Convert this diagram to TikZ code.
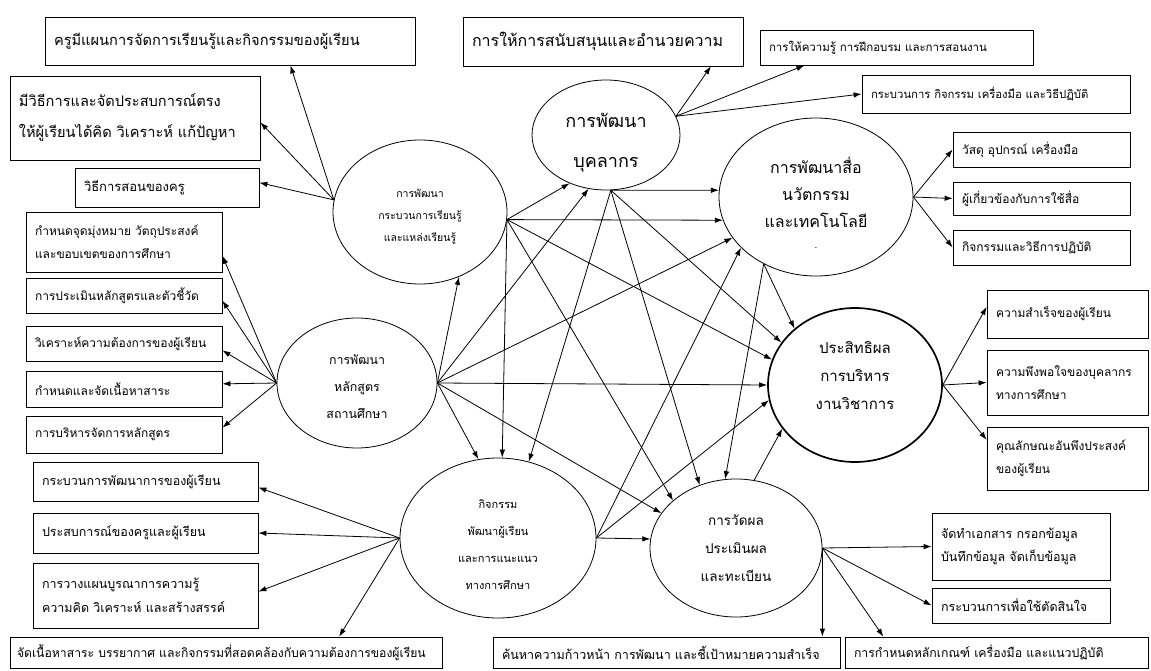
\documentclass[tikz,border=0pt]{standalone}
\usepackage{fontspec}
\newfontfamily\thai[Script=Thai]{Loma}
\newcommand\lift[2]{\raisebox{#1}[\height][\depth]{#2}}
\usetikzlibrary{shapes.geometric, arrows.meta}

\begin{document}
\begin{tikzpicture}[x=1pt,y=-1pt,line width=0.8pt]

\tikzset{factor/.style = {shape=ellipse,draw,inner sep=0pt,align=center,font=\thai\fontsize{11}{27}\selectfont}}
\tikzset{item/.style = {shape=rectangle,draw,inner xsep=9pt,inner ysep=0pt,align=left,font=\thai\fontsize{12}{23}\selectfont}}
\tikzset{edge/.style = {-{Latex[length=8pt,width=5.5pt]}}}

\useasboundingbox (0,0) rectangle (1151,671);

%factors
\node[factor, minimum width=174, minimum height=144, font=\thai\fontsize{10.5}{22}\selectfont] (e1) at (420,212) {\lift{-5pt}{การพัฒนา}\\\lift{-5pt}{กระบวนการเรียนรู้}\\\lift{-5pt}{และแหล่งเรียนรู้}};
\node[factor, minimum width=148, minimum height=110, font=\thai\fontsize{18}{40}\selectfont] (p) at (606,135) {\lift{-8pt}{การพัฒนา}\\\lift{-8pt}{บุคลากร}};
\node[factor, minimum width=194, minimum height=158, font=\thai\fontsize{16}{27}\selectfont] (m) at (816,197) {\lift{-6pt}{การพัฒนาสื่อ}\\\lift{-6pt}{นวัตกรรม}\\\lift{-6pt}{และเทคโนโลยี}\\[-6pt]\lift{-6pt}{\fontsize{10}{10}\selectfont .}};
\node[factor, minimum width=160, minimum height=130, font=\thai\fontsize{12.4}{27}\selectfont] (h) at (357,383) {\lift{-4pt}{การพัฒนา}\\\lift{-4pt}{หลักสูตร}\\\lift{-4pt}{สถานศึกษา}};
\node[factor, minimum width=196, minimum height=160] (c) at (498,538) {\lift{-7pt}{กิจกรรม}\\\lift{-7pt}{พัฒนาผู้เรียน}\\\lift{-7pt}{และการแนะแนว}\\\lift{-7pt}{ทางการศึกษา}};
\node[factor, minimum width=172, minimum height=138, font=\thai\fontsize{13.5}{28}\selectfont] (d) at (736,548) {การวัดผล\\ประเมินผล\\และทะเบียน};
\node[factor, minimum width=174, minimum height=154, line width=1.7pt, font=\thai\fontsize{15}{28}\selectfont] (x) at (855,385) {\lift{9pt}{ประสิทธิผล}\\\lift{9pt}{การบริหาร}\\\lift{9pt}{งานวิชาการ}};

%boxes
\node[item, text width=352, minimum height=48, font=\thai\fontsize{14.6}{23}\selectfont] (l1) at (230,41) {ครูมีแผนการจัดการเรียนรู้และกิจกรรมของผู้เรียน};
\node[item, text width=232, minimum height=84, font=\thai\fontsize{14.6}{31}\selectfont] (l2) at (135,118) {มีวิธีการและจัดประสบการณ์ตรง\\ให้ผู้เรียนได้คิด วิเคราะห์ แก้ปัญหา};
\node[item, text width=166, minimum height=39, font=\thai\fontsize{13}{23}\selectfont] (l3) at (167,187.5) {วิธีการสอนของครู};
\node[item, text width=178, minimum height=60] (a4) at (124,242) {กำหนดจุดมุ่งหมาย  วัตถุประสงค์\\และขอบเขตของการศึกษา};
\node[item, text width=178, minimum height=35] (a5) at (124,295.5) {การประเมินหลักสูตรและตัวชี้วัด};
\node[item, text width=178, minimum height=35] (a6) at (124,343.5) {วิเคราะห์ความต้องการของผู้เรียน};
\node[item, text width=178, minimum height=36] (a7) at (124,389) {กำหนดและจัดเนื้อหาสาระ};
\node[item, text width=178, minimum height=37] (a8) at (124,434.5) {การบริหารจัดการหลักสูตร};
\node[item, text width=207, minimum height=39, font=\thai\fontsize{12.5}{24}\selectfont] (b1) at (145.5,481.5) {กระบวนการพัฒนาการของผู้เรียน};
\node[item, text width=207, minimum height=40, font=\thai\fontsize{12.5}{24}\selectfont] (b2) at (145.5,533) {ประสบการณ์ของครูและผู้เรียน};
\node[item, text width=207, minimum height=65, font=\thai\fontsize{12.5}{24}\selectfont] (b3) at (145.5,595.5) {การวางแผนบูรณาการความรู้\\ความคิด วิเคราะห์ และสร้างสรรค์};
\node[item, inner xsep=7pt, text width=418, minimum height=31, font=\thai\fontsize{12.2}{23}\selectfont] (b4) at (226,652.5) {จัดเนื้อหาสาระ บรรยากาศ และกิจกรรมที่สอดคล้องกับความต้องการของผู้เรียน};
\node[item, text width=329, minimum height=31, font=\thai\fontsize{12.5}{23}\selectfont] (b5) at (666.5,652.5) {ค้นหาความก้าวหน้า การพัฒนา และชี้เป้าหมายความสำเร็จ};
\node[item, text width=285, minimum height=31, font=\thai\fontsize{12.3}{23}\selectfont] (b6) at (996.5,652.5) {การกำหนดหลักเกณฑ์ เครื่องมือ และแนวปฏิบัติ};
\node[item, text width=160, minimum height=67, font=\thai\fontsize{12.5}{23}\selectfont] (r1) at (1021,546.5) {จัดทำเอกสาร  กรอกข้อมูล\\บันทึกข้อมูล  จัดเก็บข้อมูล};
\node[item, text width=160, minimum height=35, font=\thai\fontsize{12.5}{23}\selectfont] (r2) at (1021,605.5) {กระบวนการเพื่อใช้ตัดสินใจ};
\node[item, text width=143, minimum height=48] (s1) at (1067.5,314) {ความสำเร็จของผู้เรียน};
\node[item, text width=143, minimum height=65] (s2) at (1067.5,382.5) {ความพึงพอใจของบุคลากร\\ทางการศึกษา};
\node[item, text width=143, minimum height=63] (s3) at (1067.5,458.5) {คุณลักษณะอันพึงประสงค์\\ของผู้เรียน};
\node[item, text width=159, minimum height=35] (m1) at (1041.5,149.5) {วัสดุ  อุปกรณ์  เครื่องมือ};
\node[item, text width=159, minimum height=33] (m2) at (1041.5,198.5) {ผู้เกี่ยวข้องกับการใช้สื่อ};
\node[item, text width=159, minimum height=35] (m3) at (1041.5,247.5) {กิจกรรมและวิธีการปฏิบัติ};
\node[item, text width=262, minimum height=49, font=\thai\fontsize{16}{23}\selectfont] (t0) at (603,41.5) {การให้การสนับสนุนและอำนวยความ};
\node[item, text width=255, minimum height=35, font=\thai\fontsize{11.5}{23}\selectfont] (t1) at (896.5,47.5) {การให้ความรู้ การฝึกอบรม และการสอนงาน};
\node[item, text width=250, minimum height=38, font=\thai\fontsize{11.3}{23}\selectfont] (t2) at (996,94) {กระบวนการ กิจกรรม เครื่องมือ และวิธีปฏิบัติ};

%edges
\draw[edge] (h.west) -- (a4.-8);
\draw[edge] (h.west) -- (a5.-3);
\draw[edge] (h.west) -- (a6.-4);
\draw[edge] (h.west) -- (a7.3);
\draw[edge] (h.west) -- (a8.4);
\draw[edge] (h.east) -- (e1.-59);
\draw[edge] (h.east) -- (p.-108);
\draw[edge] (h.east) -- (m.206);
\draw[edge] (h.east) -- (x.west);
\draw[edge] (h.east) -- (c.104);
\draw[edge] (h.east) -- (d.155);

\draw[edge] (e1.172) -- (l1.-22);
\draw[edge] (e1.172) -- (l2.-2);
\draw[edge] (e1.172) -- (l3.3);
\draw[edge] (e1.-5) -- (p.-127);
\draw[edge] (e1.-5) -- (m.194);
\draw[edge] (e1.-5) -- (x.163);
\draw[edge] (e1.-5) -- (c.87);
\draw[edge] (e1.-5) -- (d.143);

\draw[edge] (p.15) -- (t0.-13);
\draw[edge] (p.15) -- (t1.-169);
\draw[edge] (p.15) -- (t2.west);
\draw[edge] (p.-85) -- (m.176);
\draw[edge] (p.-85) -- (x.150);
\draw[edge] (p.-85) -- (c.68);
\draw[edge] (p.-85) -- (d.120);

\draw[edge] (m.east) -- (m1.west);
\draw[edge] (m.east) -- (m2.west);
\draw[edge] (m.east) -- (m3.west);
\draw[edge] (m.-128) -- (x.137);
\draw[edge] (m.-128) -- (d.99);

\draw[edge] (c.west) -- (b1.-3);
\draw[edge] (c.west) -- (b2.east);
\draw[edge] (c.west) -- (b3.2);
\draw[edge] (c.west) -- (b4.8);
\draw[edge] (c.east) -- (d.174);
\draw[edge] (c.east) -- (m.-146);
\draw[edge] (c.east) -- (x.190);

\draw[edge] (d.east) -- (r1.west);
\draw[edge] (d.east) -- (r2.west);
\draw[edge] (d.east) -- (b6.172);
\draw[edge] (d.east) -- (d.east |- b5.north);
\draw[edge] (d.75) -- (x.-149);

\draw[edge] (x.east) -- (s1.175);
\draw[edge] (x.east) -- (s2.west);
\draw[edge] (x.east) -- (s3.167);

\end{tikzpicture}
\end{document}
